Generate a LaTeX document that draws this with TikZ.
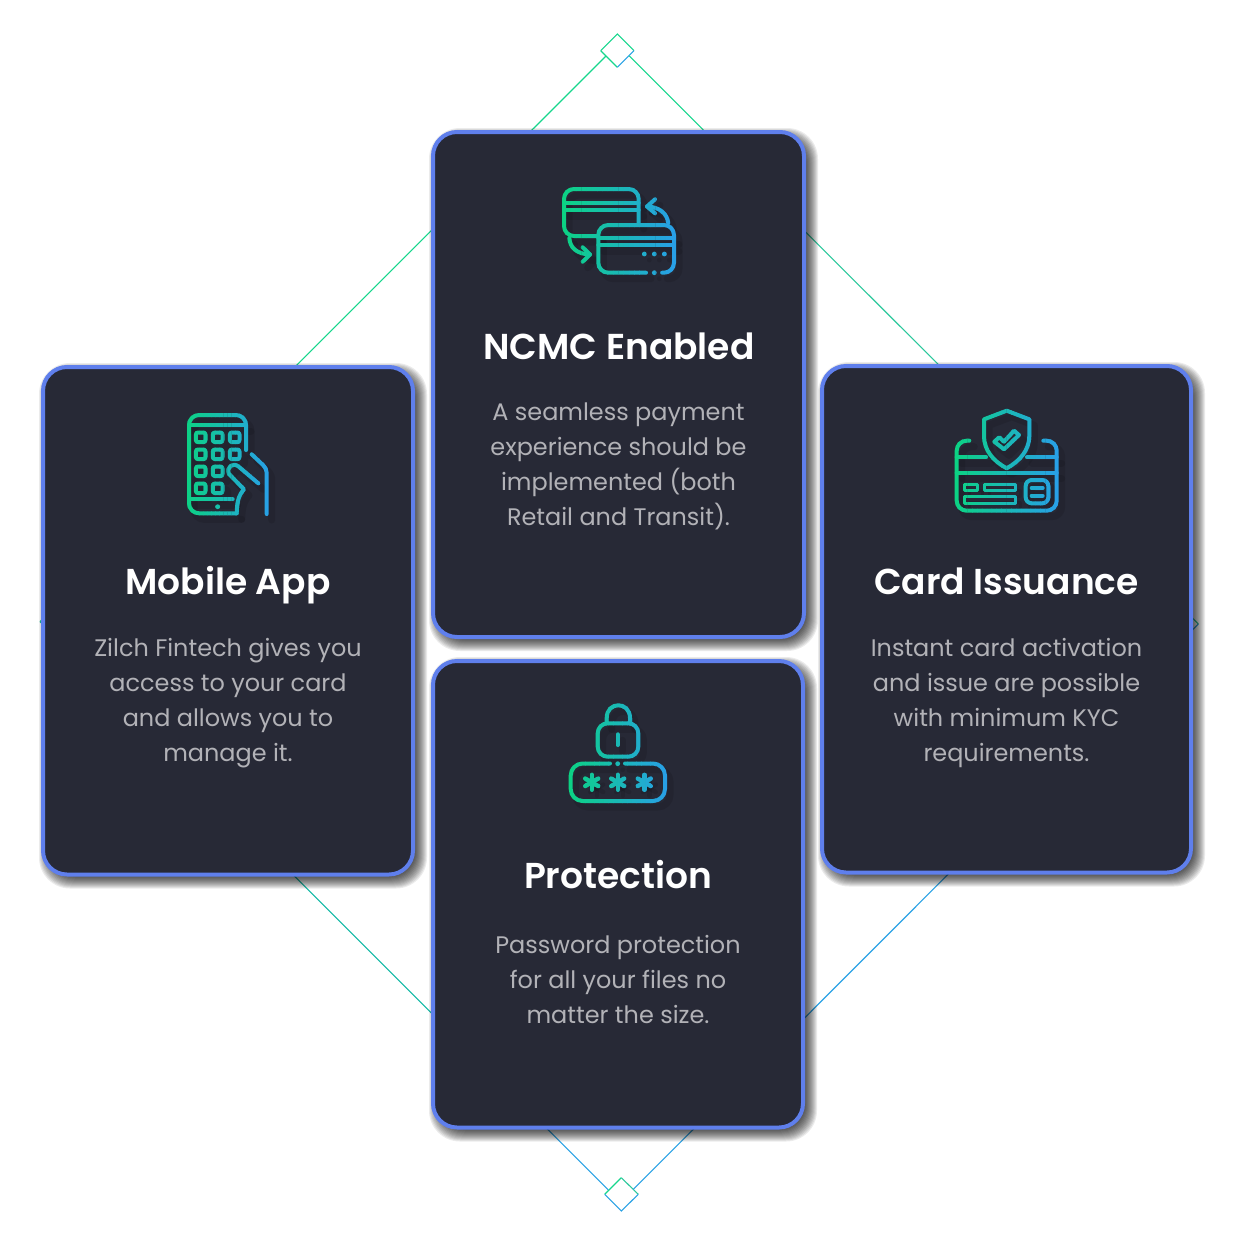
\documentclass[tikz,border=0pt]{standalone}
\usepackage{fontspec}
\setmainfont{Poppins}
\newfontfamily\titlefont{Poppins SemiBold}
\usetikzlibrary{calc}

\definecolor{cardfill}{HTML}{272936}
\definecolor{cardedge}{HTML}{5F7FEC}
\definecolor{bodygrey}{HTML}{B2B2B7}
\definecolor{icongreen}{HTML}{0AD67C}
\definecolor{iconblue}{HTML}{2A9CEE}
\definecolor{linegreen}{HTML}{16D68C}
\definecolor{lineteal}{HTML}{2CC89C}
\definecolor{linecyan}{HTML}{10B8A4}
\definecolor{lineblue}{HTML}{2BA2E4}

\tikzset{
	card/.style = {draw = cardedge, fill = cardfill, line width = 2pt, rounded corners = 12pt, outer sep = 0pt, inner sep = 0pt},
	cardtitle/.style = {white, anchor = base, font = \titlefont\fontsize{18}{22}\selectfont},
	cardtext/.style = {bodygrey, anchor = north, align = center, font = \fontsize{11.97}{17.5}\selectfont},
	iconline/.style = {line width = 2pt, line cap = round, line join = round},
	thinline/.style = {line width = 0.55pt}
}

%	strips of colour, clipped over one icon
\newcommand{\gradicon}[5]{%
	\begin{scope}[black, opacity = 0.10, shift = {(5, 6)}, iconline/.style = {line width = 3.5pt, line cap = round, line join = round}]
		#5
	\end{scope}
	\foreach \i in {0,...,23}{
		\pgfmathsetmacro{\pct}{(\i + 0.5)*100/24}
		\colorlet{stripcol}{iconblue!\pct!icongreen}
		\begin{scope}
			\clip ({#1 + (#2 - #1)*\i/24 - 0.2}, #3) rectangle ({#1 + (#2 - #1)*(\i + 1)/24 + 0.2}, #4);
			\begin{scope}[color = stripcol]
				#5
			\end{scope}
		\end{scope}
	}
}

\newcommand{\swapicon}{%
	\draw[iconline, rounded corners = 5pt] (638.7, 223) -- (638.7, 189) -- (564, 189) -- (564, 236) -- (598, 236);
	\draw[iconline] (564, 203) -- (638.7, 203) (564, 210) -- (638.7, 210);
	\draw[iconline, rounded corners = 5pt] (646, 272.7) -- (598.3, 272.7) -- (598.3, 225) -- (674, 225) -- (674, 272.7) -- (662.3, 272.7);
	\draw[iconline] (598.3, 238) -- (674, 238) (598.3, 245) -- (674, 245);
	\foreach \x in {644.3, 654.3, 664.3}
		\fill (\x, 254) circle (1.2pt);
	\fill (654.3, 272.7) circle (1.2pt);
	\draw[iconline] (668.3, 223) .. controls (667, 213) and (659, 207) .. (647, 206.5);
	\draw[iconline] (655, 199.3) -- (647, 206.5) -- (655, 213.3);
	\draw[iconline] (569.3, 238) .. controls (570, 248) and (577, 254) .. (590, 254.5);
	\draw[iconline] (582.7, 247.3) -- (590, 254.5) -- (582.7, 261.7);
}

\newcommand{\phoneicon}{%
	\draw[iconline, rounded corners = 5pt] (246, 450) -- (246, 415) -- (189, 415) -- (189, 513.3) -- (236.7, 513.3);
	\draw[iconline] (189, 425) -- (246, 425) (189, 499.3) -- (232.7, 499.3);
	\fill (217.7, 506.7) circle (1.2pt);
	\foreach \x/\y in {200.7/437.3, 217.7/437.3, 234.7/437.3, 200.7/454.3, 217.7/454.3, 234.7/454.3, 200.7/471.3, 217.7/471.3, 200.7/488.3, 217.7/488.3}
		\draw[iconline, rounded corners = 1pt] (\x - 4.8, \y - 4.8) rectangle (\x + 4.8, \y + 4.8);
	\draw[iconline] (258.3, 483.3) -- (238.5, 466.5) .. controls (233, 462) and (226, 467) .. (229, 474) -- (244, 489.3) .. controls (238, 496) and (237, 503) .. (236.7, 513.3);
	\draw[iconline] (251.7, 454.3) -- (263, 465) .. controls (266, 468) and (266.7, 471) .. (266.7, 475) -- (266.7, 514);
}

\newcommand{\shieldicon}{%
	\draw[iconline, rounded corners = 5pt] (969.3, 440.7) -- (956.7, 440.7) -- (956.7, 510.7) -- (1056.7, 510.7) -- (1056.7, 440.7) -- (1043.3, 440.7);
	\draw[iconline] (956.7, 457.3) -- (986, 457.3) (1027, 457.3) -- (1056.7, 457.3) (956.7, 472.7) -- (1056.7, 472.7);
	\draw[iconline] (1006.7, 410.7) -- (1029.3, 419.3) -- (1029.3, 436) .. controls (1029.3, 450) and (1020, 461) .. (1006.7, 468.3) .. controls (993, 461) and (984, 450) .. (984, 436) -- (984, 419.3) -- cycle;
	\draw[iconline] (994.3, 441.7) -- (999.3, 437.3) -- (1004, 441.7) -- (1014, 430.7) -- (1019, 435) -- (1004, 449.3) -- cycle;
	\draw[iconline, line width = 1.5pt] (964, 484.7) rectangle (977.3, 490.7);
	\draw[iconline, line width = 1.5pt] (984, 484.7) rectangle (1015, 490.7);
	\draw[iconline, line width = 1.5pt] (964, 496.7) rectangle (1015, 503.3);
	\draw[iconline, rounded corners = 3pt] (1025.7, 480) rectangle (1048.3, 503.3);
	\draw[iconline] (1031.7, 488) -- (1042.7, 488) (1031.7, 495.7) -- (1042.7, 495.7);
}

\newcommand{\lockicon}{%
	\draw[iconline, rounded corners = 5pt] (597.7, 723.3) rectangle (638.3, 756.7);
	\draw[iconline] (606.7, 723.3) -- (606.7, 718) .. controls (606.7, 701) and (630, 701) .. (630, 718) -- (630, 723.3);
	\draw[iconline] (617.7, 734.3) -- (617.7, 745);
	\draw[iconline, rounded corners = 6pt] (610, 763.5) -- (570.7, 763.5) -- (570.7, 801) -- (665, 801) -- (665, 763.5) -- (625, 763.5);
	\fill (617.7, 763.7) circle (1.2pt);
	\foreach \x in {591.7, 617.7, 644.3}
		\foreach \a in {90, 30, -30}
			\draw[iconline, line width = 2.2pt] (\x, 782.3) +(\a:7.5) -- +(\a + 180:7.5);
}

\begin{document}
\begin{tikzpicture}[x = 0.5pt, y = -0.5pt]
	\useasboundingbox (0, 0) rectangle (1245, 1259);

	%	small diamonds
	\coordinate (topN) at (617.3, 34);
	\coordinate (topE) at (634, 50.7);
	\coordinate (topS) at (617.3, 67.3);
	\coordinate (topW) at (600.7, 50.7);
	\coordinate (botN) at (621.3, 1177.7);
	\coordinate (botE) at (638.3, 1194.3);
	\coordinate (botS) at (621.3, 1211);
	\coordinate (botW) at (604.7, 1194.3);
	\draw[thinline, linegreen] (topW) -- (topN) -- (topE);
	\draw[thinline, linegreen] (topW) -- (topS);
	\draw[thinline, lineblue] (topS) -- (topE);
	\draw[thinline, linegreen] (botW) -- (botN);
	\draw[thinline, lineteal] (botN) -- (botE);
	\draw[thinline, lineblue] (botW) -- (botS) -- (botE);

	%	big diamond
	\coordinate (topL) at (606, 56);
	\coordinate (topR) at (629.3, 56);
	\coordinate (tipL) at (40, 621.7);
	\coordinate (tipR) at (1198.3, 624);
	\coordinate (botL) at (608.3, 1190);
	\coordinate (botR) at (633.3, 1189.3);
	\coordinate (midL) at ($(tipL)!0.8!(botL)$);
	\coordinate (midR) at ($(topR)!0.13!(tipR)$);
	\draw[thinline, linegreen] (topL) -- (tipL);
	\draw[thinline, linegreen] (topR) -- (midR);
	\draw[thinline, lineteal] (midR) -- (tipR);
	\draw[thinline, linecyan] (tipL) -- (midL);
	\draw[thinline, lineblue] (midL) -- (botL);
	\draw[thinline, lineblue] (tipR) -- (botR);

	%	shadows
	\foreach \xa/\ya/\xb/\yb in {433/132/804/637, 433/661/803/1127.5, 43/367/413/874.5, 822/366/1191/872.5}
		\foreach \e in {-9,...,9}
			\fill[black, opacity = 0.08, rounded corners = {11pt + 0.5pt*(\e + 9)/2}] ({\xa + 5 - (\e)}, {\ya + 5 - (\e)}) rectangle ({\xb + 5 + (\e)}, {\yb + 5 + (\e)});

	%	cards
	\node[card, minimum width = 185.5pt, minimum height = 252.5pt] (ncmccard) at (618.5, 384.5) {};
	\node[card, minimum width = 185pt, minimum height = 233.25pt] (protcard) at (618, 894.25) {};
	\node[card, minimum width = 185pt, minimum height = 253.75pt] (appcard) at (228, 620.75) {};
	\node[card, minimum width = 184.5pt, minimum height = 253.25pt] (issuecard) at (1006.5, 619.25) {};

	%	icons
	\gradicon{555}{682}{175}{285}{\swapicon}
	\gradicon{180}{275}{405}{525}{\phoneicon}
	\gradicon{948}{1065}{400}{520}{\shieldicon}
	\gradicon{562}{674}{695}{812}{\lockicon}

	%	titles
	\node[cardtitle] (ncmctitle) at (619, 359) {NCMC Enabled};
	\node[cardtitle] (apptitle) at (228, 594) {Mobile App};
	\node[cardtitle] (issuetitle) at (1006.5, 594) {Card Issuance};
	\node[cardtitle] (prottitle) at (618, 888) {Protection};

	%	texts
	\node[cardtext] (ncmctext) at (618.5, 396) {A seamless payment\\experience should be\\implemented (both\\Retail and Transit).};
	\node[cardtext] (apptext) at (228, 631) {Zilch Fintech gives you\\access to your card\\and allows you to\\manage it.};
	\node[cardtext] (issuetext) at (1006.5, 631) {Instant card activation\\and issue are possible\\with minimum KYC\\requirements.};
	\node[cardtext] (prottext) at (618, 928) {Password protection\\for all your files no\\matter the size.};
\end{tikzpicture}
\end{document}
